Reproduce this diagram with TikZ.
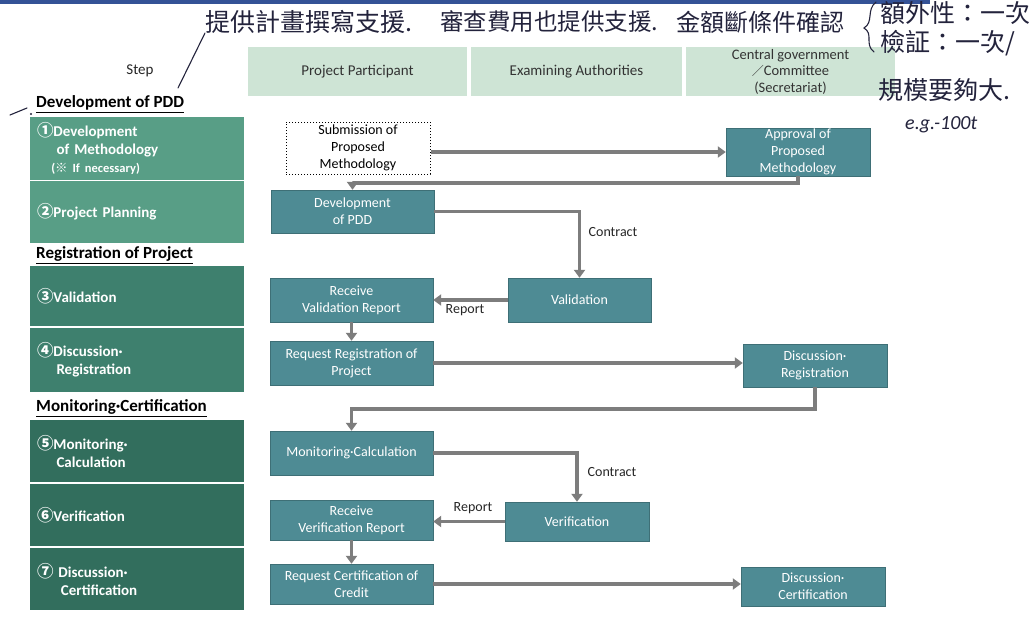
\documentclass[tikz,border=0pt]{standalone}
\usepackage{fontspec}
\setmainfont{Carlito}
\newfontfamily\cjk{Noto Sans CJK TC}
\newfontfamily\sym{Noto Sans CJK JP}
\usetikzlibrary{arrows.meta}
\definecolor{flowc}{RGB}{78,139,148}
\definecolor{stepa}{RGB}{88,158,134}
\definecolor{stepb}{RGB}{62,128,110}
\definecolor{stepc}{RGB}{50,110,93}
\definecolor{hdrc}{RGB}{206,228,213}
\definecolor{arrc}{RGB}{125,125,125}
\definecolor{inkc}{RGB}{35,35,60}
\definecolor{barc}{RGB}{52,82,150}
\newcommand{\cnum}[1]{{\sym\fontsize{16.5}{18}\selectfont #1}}
\tikzset{
  flow/.style={rectangle, fill=flowc, draw=flowc!80!black, line width=0.4pt, text=white, align=center, font=\fontsize{14}{17}\selectfont, inner sep=0pt},
  subbox/.style={rectangle, draw=black, dotted, line width=1pt, fill=white, text=black, align=center, font=\fontsize{14}{17}\selectfont, inner sep=0pt},
  hdr/.style={rectangle, fill=hdrc, text=black!80, align=center, font=\fontsize{15}{17}\selectfont, inner sep=0pt},
  stepbox/.style={rectangle, minimum width=214, text width=200, align=left, text=white, font=\bfseries\fontsize{15}{18}\selectfont, inner sep=0pt},
  sect/.style={anchor=west, text=black, font=\bfseries\fontsize{17}{19}\selectfont, inner sep=0pt},
  arr/.style={draw=arrc, line width=3.2pt, -{Triangle[length=8pt,width=11pt]}},
  lbl/.style={text=black!85, font=\fontsize{14}{16}\selectfont, inner sep=0pt},
  ink/.style={text=inkc, font=\cjk\fontsize{25}{30}\selectfont, inner sep=0pt, anchor=west},
}
\begin{document}
\begin{tikzpicture}[x=1pt,y=-1pt]
\useasboundingbox (0,0) rectangle (1033,619);
\fill[white] (0,0) rectangle (1033,619);
\fill[barc] (0,0) rectangle (930,4);

% header
\node[lbl, font=\fontsize{15}{16}\selectfont] (stephdr) at (140,71) {Step};
\node[hdr, minimum width=219, minimum height=49] (pp) at (357.5,71.5) {Project Participant};
\node[hdr, minimum width=211, minimum height=49] (ea) at (576.5,71.5) {Examining Authorities};
\node[hdr, minimum width=209, minimum height=49, font=\fontsize{14.5}{16.5}\selectfont] (cg) at (790.5,71.5) {\raisebox{-1.5pt}{\parbox{150pt}{\centering Central government\\{\sym\fontsize{12}{12}\selectfont ／}Committee\\(Secretariat)}}};

% step column
\node[sect] (secA) at (36,104) {\underline{Development of PDD}};
\node[stepbox, fill=stepa, minimum height=63] (s1) at (137,148.5) {\cnum{①}Development\\\hspace{1.3em}of Methodology\\\hspace{0.95em}{\fontsize{12.5}{14}\selectfont({\sym ※} If necessary)}};
\node[stepbox, fill=stepa, minimum height=62] (s2) at (137,212) {\cnum{②}Project Planning};
\node[sect] (secB) at (36,255) {\underline{Registration of Project}};
\node[stepbox, fill=stepb, minimum height=60] (s3) at (137,296) {\cnum{③}Validation};
\node[stepbox, fill=stepb, minimum height=64] (s4) at (137,360) {\cnum{④}Discussion·\\\hspace{1.3em}Registration};
\node[sect] (secC) at (36,408) {\underline{Monitoring·Certification}};
\node[stepbox, fill=stepc, minimum height=62] (s5) at (137,451) {\cnum{⑤}Monitoring·\\\hspace{1.3em}Calculation};
\node[stepbox, fill=stepc, minimum height=62] (s6) at (137,515) {\cnum{⑥}Verification};
\node[stepbox, fill=stepc, minimum height=62] (s7) at (137,579) {\cnum{⑦} Discussion·\\\hspace{1.6em}Certification};

% flow boxes
\node[subbox, minimum width=144, minimum height=52] (sub) at (358,148) {Submission of\\Proposed\\Methodology};
\node[flow, minimum width=144, minimum height=48] (appr) at (798,152) {Approval of\\Proposed\\Methodology};
\node[flow, minimum width=163, minimum height=43] (dev) at (352.5,211.5) {Development\\of PDD};
\node[flow, minimum width=143, minimum height=44] (val) at (579.5,300) {Validation};
\node[flow, minimum width=163, minimum height=44] (rvr) at (351.5,300) {Receive\\Validation Report};
\node[flow, minimum width=163, minimum height=44] (rrp) at (351.5,363) {Request Registration of\\Project};
\node[flow, minimum width=144, minimum height=43] (dreg) at (815,365.5) {Discussion·\\Registration};
\node[flow, minimum width=163, minimum height=44] (mon) at (351.5,453) {Monitoring·Calculation};
\node[flow, minimum width=144, minimum height=39] (ver) at (577,521.5) {Verification};
\node[flow, minimum width=163, minimum height=40] (rver) at (351.5,520) {Receive\\Verification Report};
\node[flow, minimum width=163, minimum height=40] (rcc) at (351.5,584) {Request Certification of\\Credit};
\node[flow, minimum width=144, minimum height=39] (dcert) at (813,586.5) {Discussion·\\Certification};

% connectors
\coordinate (c1) at (0,183);
\coordinate (c2) at (0,409);
\draw[arr] (sub.east |- appr.west) -- (appr.west);
\draw[arr] (appr.south) -- (appr.south |- c1) -- (dev.north |- c1) -- (dev.north);
\draw[arr] (dev.east) -| (val.north);
\draw[arr] (val.west) -- (rvr.east);
\draw[arr] (rvr.south) -- (rrp.north);
\draw[arr] (rrp.east) -- (dreg.west |- rrp.east);
\draw[arr] (dreg.south) -- (dreg.south |- c2) -- (mon.north |- c2) -- (mon.north);
\draw[arr] (mon.east) -| (ver.north);
\draw[arr] (ver.west) -- (rver.east |- ver.west);
\draw[arr] (rver.south) -- (rcc.north);
\draw[arr] (rcc.east) -- (dcert.west |- rcc.east);

\node[lbl] (lc1) at (613,232) {Contract};
\node[lbl] (lr1) at (465,310) {Report};
\node[lbl] (lc2) at (612,472) {Contract};
\node[lbl] (lr2) at (473,508) {Report};

% handwritten notes
\node[ink] (h1) at (205,22) {提供計畫撰寫支援.};
\node[ink, font=\cjk\fontsize{23.5}{30}\selectfont] (h2) at (440,22) {審查費用也提供支援.};
\node[ink, font=\cjk\fontsize{24}{30}\selectfont] (h3) at (676,22) {金額斷條件確認};
\node[ink] (h4) at (880,13) {額外性：一次};
\node[ink] (h5) at (880,43) {檢証：一次/};
\node[ink] (h6) at (878,90) {規模要夠大.};
\node[ink, font=\itshape\fontsize{20}{22}\selectfont] (h7) at (905,125) {e.g.-100t};
\draw[inkc, line width=1.1pt, line cap=round] (205,33) -- (178,88);
\draw[inkc, line width=1.1pt, line cap=round] (10,115) -- (27,108);
\fill[inkc] (31,114) circle (1.2);
\draw[inkc, line width=1.1pt, line cap=round] (876,2) .. controls (866,10) and (874,22) .. (864,28) .. controls (874,34) and (864,44) .. (874,52);
\end{tikzpicture}
\end{document}
